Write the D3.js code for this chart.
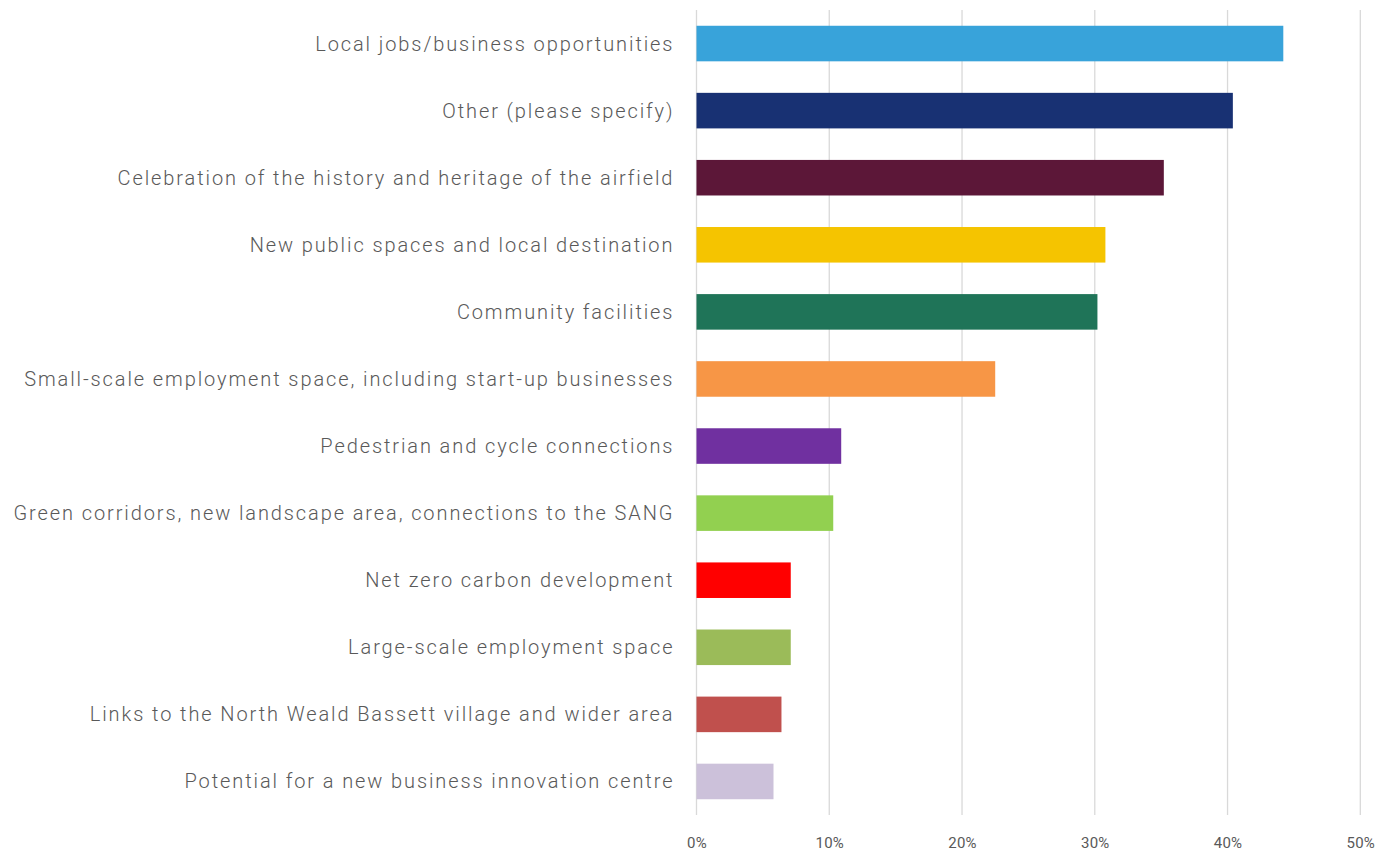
<!DOCTYPE html>
<html>
<head>
<meta charset="utf-8">
<script src="https://cdn.jsdelivr.net/npm/d3@7"></script>
<style>
  html, body { margin: 0; padding: 0; background: #fff; }
  svg { display: block; }
  .cat { font-family: Roboto, "Noto Sans", sans-serif; font-size: 20px; font-weight: 300; letter-spacing: 1.9px; fill: #595959; }
  .tick-label { font-family: Roboto, "Noto Sans", sans-serif; font-size: 15px; font-weight: 400; letter-spacing: 0.2px; fill: #595959; }
</style>
</head>
<body>
<svg id="chart" width="1391" height="855"></svg>
<script>
const categories = [
  "Local jobs/business opportunities",
  "Other (please specify)",
  "Celebration of the history and heritage of the airfield",
  "New public spaces and local destination",
  "Community facilities",
  "Small-scale employment space, including start-up businesses",
  "Pedestrian and cycle connections",
  "Green corridors, new landscape area, connections to the SANG",
  "Net zero carbon development",
  "Large-scale employment space",
  "Links to the North Weald Bassett village and wider area",
  "Potential for a new business innovation centre"
];
const values = [44.2, 40.4, 35.2, 30.8, 30.2, 22.5, 10.9, 10.3, 7.1, 7.1, 6.4, 5.8];
const barColors = ["#38A3DA", "#183173", "#5C1738", "#F5C400", "#1F7458", "#F79646",
                   "#7030A0", "#92D050", "#FF0000", "#9BBB59", "#C0504D", "#CCC1DA"];
const tickValues = [0, 10, 20, 30, 40, 50];

const svg = d3.select("#chart");
const plot = { left: 696.5, right: 1360.3, top: 10, bottom: 815 };

const x = d3.scaleLinear().domain([0, 50]).range([plot.left, plot.right]);
const y = d3.scaleBand().domain(categories).range([plot.top, plot.bottom]).paddingInner(0.47).paddingOuter(0.235);

// vertical gridlines
svg.append("g").selectAll("line").data(tickValues).join("line")
  .attr("x1", d => x(d)).attr("x2", d => x(d))
  .attr("y1", plot.top).attr("y2", plot.bottom)
  .attr("stroke", "#D9D9D9").attr("stroke-width", 1.3);

// bars
svg.append("g").selectAll("rect").data(values).join("rect")
  .attr("x", x(0))
  .attr("y", (d, i) => y(categories[i]))
  .attr("width", d => x(d) - x(0))
  .attr("height", y.bandwidth())
  .attr("fill", (d, i) => barColors[i]);

// category labels (offset by the trailing letter-spacing)
svg.append("g").selectAll("text").data(categories).join("text")
  .attr("class", "cat")
  .attr("x", plot.left - 24 + 1.9)
  .attr("y", d => y(d) + y.bandwidth() / 2)
  .attr("dy", "0.35em")
  .attr("text-anchor", "end")
  .text(d => d);

// x-axis tick labels
const xAxis = d3.axisBottom(x).tickValues(tickValues).tickFormat(d => d + "%").tickSize(0).tickPadding(0);
const ax = svg.append("g").attr("transform", `translate(0, ${plot.bottom + 28})`).call(xAxis);
ax.select(".domain").remove();
ax.selectAll("text").attr("class", "tick-label").attr("dy", "0.35em")
  .attr("font-family", null).attr("font-size", null).attr("fill", null);
ax.attr("font-family", null).attr("font-size", null);
</script>
</body>
</html>
